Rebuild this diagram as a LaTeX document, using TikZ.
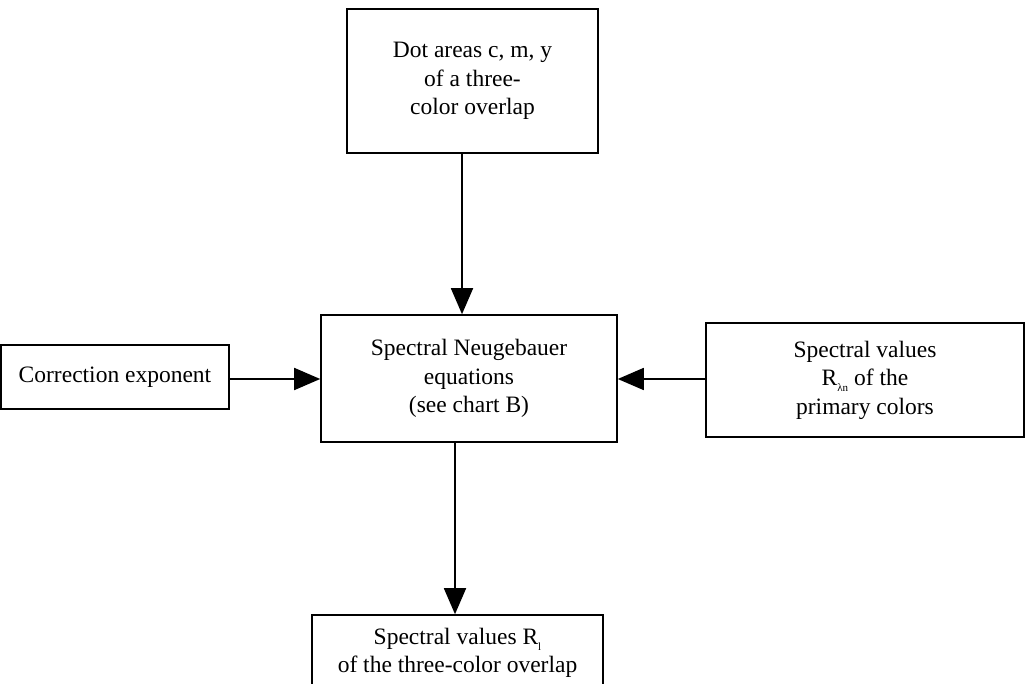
\documentclass[tikz,border=0pt]{standalone}
\usepackage{fontspec}
\setmainfont{Liberation Serif}
\usetikzlibrary{arrows.meta}
\newcommand{\smsub}[1]{\raisebox{-6pt}{\fontsize{11}{11}\selectfont #1}}
\tikzset{
  box/.style={draw, line width=1.6pt, rectangle, align=center, inner sep=0pt,
    font=\fontsize{23.5}{28.5}\selectfont},
  arr/.style={line width=1.8pt, -{Triangle[length=26pt,width=22pt]}}
}
\begin{document}
\begin{tikzpicture}[x=1pt,y=-1pt]
\useasboundingbox (0,0) rectangle (1031,684);
\node[box, minimum width=251pt, minimum height=144pt] (top) at (472.5,81)
  {Dot areas c, m, y\\of a three-\\color overlap};
\node[box, minimum width=296pt, minimum height=127pt] (center) at (469,378.5)
  {Spectral Neugebauer\\equations\\(see chart B)};
\node[box, minimum width=228pt, minimum height=64pt] (left) at (115,377)
  {Correction exponent};
\node[box, minimum width=318pt, minimum height=114pt] (right) at (865,380)
  {Spectral values\\R\smsub{λn} of the\\primary colors};
\node[box, minimum width=291pt, minimum height=76pt] (bottom) at (457.5,653)
  {Spectral values R\smsub{l}\\of the three-color overlap};
\coordinate (cin) at ([yshift=-0.5pt]center.west);
\coordinate (cinr) at ([yshift=-0.5pt]center.east);
\draw[arr] ([xshift=-10.5pt]top.south) -- ([xshift=-7pt]center.north);
\draw[arr] ([xshift=-14pt]center.south) -- ([xshift=-2.5pt]bottom.north);
\draw[arr] (cin -| left.east) -- (cin);
\draw[arr] (cinr -| right.west) -- (cinr);
\end{tikzpicture}
\end{document}
